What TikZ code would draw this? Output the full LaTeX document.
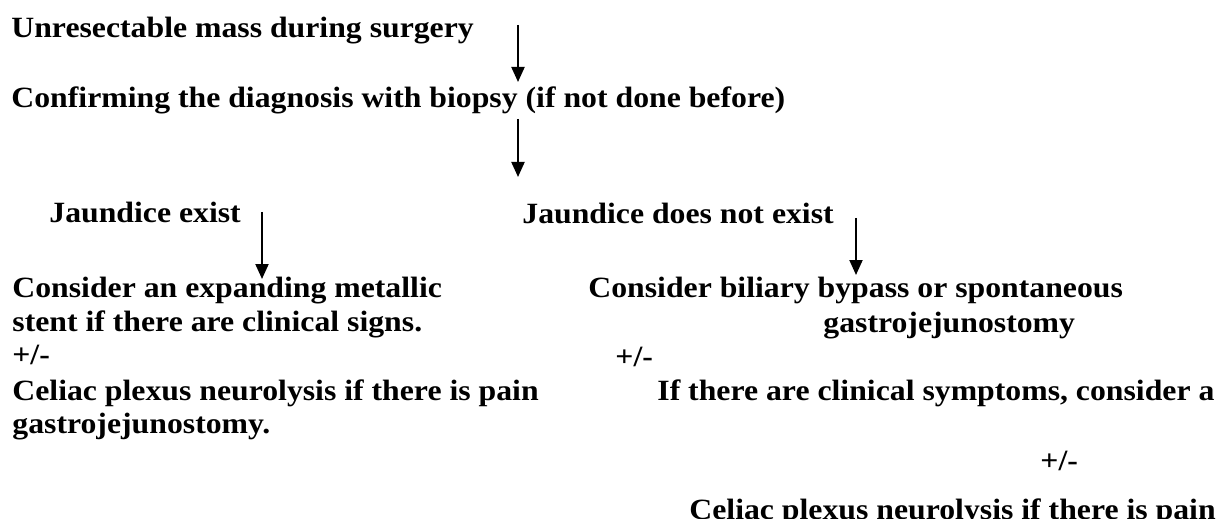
\documentclass[tikz,border=0pt]{standalone}
\usepackage{fontspec}
\newfontfamily\flowfont{Liberation Serif}[FakeStretch=1.08]
\usetikzlibrary{arrows.meta,positioning}

\begin{document}
\begin{tikzpicture}[x=0.5pt,y=-0.5pt,
    txt/.style={anchor=base west,inner sep=0pt,font=\flowfont\bfseries\fontsize{14.7}{17.6}\selectfont},
    arr/.style={-{Triangle[width=6.5pt,length=7.5pt]},line width=1pt}]
    \useasboundingbox (0,0) rectangle (1222,519);

    % Start
    \node[txt] (mass) at (11,38) {Unresectable mass during surgery};
    \coordinate (a1top) at (518,25);
    \coordinate (a1tip) at (518,82);
    \draw[arr] (a1top) -- (a1tip);

    % Biopsy
    \node[txt] (biopsy) at (11,108) {Confirming the diagnosis with biopsy (if not done before)};
    \coordinate (a2top) at (518,119);
    \coordinate (a2tip) at (518,177);
    \draw[arr] (a2top) -- (a2tip);

    % Jaundice
    \node[txt] (jyes) at (49,222) {Jaundice exist};
    \node[txt] (jno) at (522,223) {Jaundice does not exist};
    \coordinate (a3top) at (262,212);
    \coordinate (a3tip) at (262,279);
    \draw[arr] (a3top) -- (a3tip);
    \coordinate (a4top) at (856,218);
    \coordinate (a4tip) at (856,275);
    \draw[arr] (a4top) -- (a4tip);

    % Jaundice exist path
    \node[txt] (stent1) at (12,297) {Consider an expanding metallic};
    \node[txt] (stent2) at (12,331) {stent if there are clinical signs.};
    \node[txt] (pmyes) at (12,364) {+/-};
    \node[txt] (celyes) at (12,400) {Celiac plexus neurolysis if there is pain};
    \node[txt] (gjyes) at (12,433) {gastrojejunostomy.};

    % Jaundice does not exist path
    \node[txt] (bypass1) at (588,297) {Consider biliary bypass or spontaneous};
    \node[txt] (bypass2) at (823,332) {gastrojejunostomy};
    \node[txt] (pmno) at (615,366) {+/-};
    \node[txt] (symp) at (657,400) {If there are clinical symptoms, consider a};
    \node[txt] (pmno2) at (1040,470) {+/-};
    \node[txt] (celno) at (689,519) {Celiac plexus neurolysis if there is pain};
\end{tikzpicture}
\end{document}
